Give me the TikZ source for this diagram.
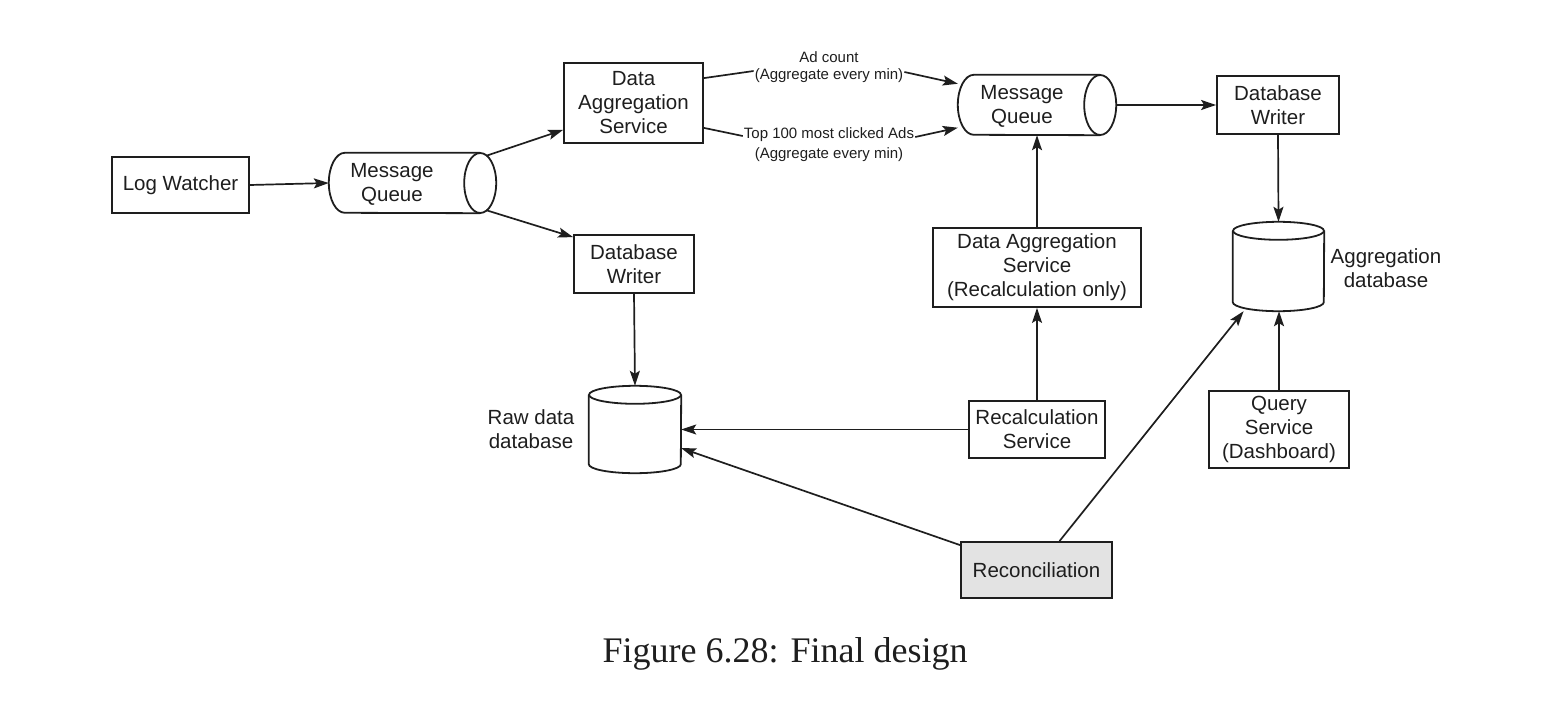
\documentclass[tikz,border=0pt]{standalone}
\usepackage{fontspec}
\setmainfont{Liberation Sans}
\newfontfamily\capfont{Liberation Serif}
\usetikzlibrary{arrows.meta}
\definecolor{ink}{HTML}{1E1E1E}
\begin{document}
\begin{tikzpicture}[x=1pt,y=-1pt,
  every node/.style={text=ink},
  box/.style={draw=ink, line width=1.8pt, inner sep=0pt, align=center, font=\fontsize{20.5}{24}\selectfont},
  hole/.style={inner sep=0pt},
  cyl/.style={draw=ink, line width=1.8pt},
  lbl/.style={align=center, font=\fontsize{20.5}{24}\selectfont},
  small/.style={inner sep=1pt, font=\fontsize{15}{18}\selectfont},
  arr/.style={draw=ink, line width=1.7pt, -{Stealth[length=15pt,width=10pt,inset=3pt]}},
  ln/.style={draw=ink, line width=1.7pt}
]
\useasboundingbox (0,0) rectangle (1541,709);

% ---- boxes
\node[box, minimum width=137, minimum height=56] (lw) at (180.5,185) {Log Watcher};
\node[box, minimum width=139, minimum height=80] (das) at (633.5,103) {Data\\Aggregation\\Service};
\node[box, minimum width=120, minimum height=58] (dbw1) at (634,264) {Database\\Writer};
\node[box, minimum width=122, minimum height=58] (dbw2) at (1278,105) {Database\\Writer};
\node[box, minimum width=208, minimum height=79] (dasr) at (1037,267.5) {Data Aggregation\\Service\\(Recalculation only)};
\node[box, minimum width=136, minimum height=57] (recalc) at (1037,429.5) {Recalculation\\Service};
\node[box, minimum width=140, minimum height=77] (query) at (1279,429.5) {Query\\Service\\(Dashboard)};
\node[box, fill=gray!22, minimum width=151, minimum height=56] (recon) at (1036.5,570) {Reconciliation};

% ---- horizontal cylinders (message queues)
\node[hole, minimum width=167, minimum height=60] (mq1) at (412.5,183) {};
\draw[cyl] ([xshift=-16pt]mq1.north east) -- ([xshift=16pt]mq1.north west)
  arc[start angle=90, end angle=270, x radius=16pt, y radius=30pt] -- ([xshift=-16pt]mq1.south east);
\draw[cyl] ([xshift=-16pt]mq1.east) ellipse[x radius=16pt, y radius=30pt];
\node[lbl] (mq1t) at (392,184) {Message\\Queue};

\node[hole, minimum width=158, minimum height=60] (mq2) at (1037,105) {};
\draw[cyl] ([xshift=-16pt]mq2.north east) -- ([xshift=16pt]mq2.north west)
  arc[start angle=90, end angle=270, x radius=16pt, y radius=30pt] -- ([xshift=-16pt]mq2.south east);
\draw[cyl] ([xshift=-16pt]mq2.east) ellipse[x radius=16pt, y radius=30pt];
\node[lbl] (mq2t) at (1022,106) {Message\\Queue};

% ---- vertical cylinders (databases)
\node[hole, minimum width=92, minimum height=87] (rawdb) at (635,429.5) {};
\draw[cyl] ([yshift=-9pt]rawdb.north west) -- ([yshift=9pt]rawdb.south west)
  arc[start angle=180, end angle=360, x radius=46pt, y radius=9pt] -- ([yshift=-9pt]rawdb.north east);
\draw[cyl] ([yshift=-9pt]rawdb.north) ellipse[x radius=46pt, y radius=9pt];
\node[lbl] (rawlbl) at (531,429) {Raw data\\database};

\node[hole, minimum width=91, minimum height=89] (aggdb) at (1278.5,266.5) {};
\draw[cyl] ([yshift=-9pt]aggdb.north west) -- ([yshift=9pt]aggdb.south west)
  arc[start angle=180, end angle=360, x radius=45.5pt, y radius=9pt] -- ([yshift=-9pt]aggdb.north east);
\draw[cyl] ([yshift=-9pt]aggdb.north) ellipse[x radius=45.5pt, y radius=9pt];
\node[lbl] (agglbl) at (1386,268) {Aggregation\\database};

% ---- edge labels
\node[small] (adcount) at (829,57) {Ad count};
\node[small] (agg1) at (829,76) {(Aggregate every min)};
\node[small] (top100) at (829,135) {Top 100 most clicked Ads};
\node[small] (agg2) at (829,155) {(Aggregate every min)};

% ---- caption
\node[font=\capfont\fontsize{36}{40}\selectfont] (cap) at (785,654) {Figure 6.28: Final design};

% ---- connectors
\draw[arr] (lw.east) -- (mq1.west);
\draw[arr] ([xshift=-10pt,yshift=-3pt]mq1.north east) -- ([yshift=14pt]das.south west);
\draw[arr] ([xshift=-10pt,yshift=3pt]mq1.south east) -- ([yshift=-3pt]dbw1.north west);
\draw[ln] ([yshift=-16pt]das.north east) -- ([yshift=5pt]agg1.west);
\draw[arr] ([yshift=4pt]agg1.east) -- (mq2.165);
\draw[ln] ([yshift=16pt]das.south east) -- ([yshift=-1pt]top100.west);
\draw[arr] ([yshift=-2pt]top100.east) -- (mq2.196);
\draw[arr] (mq2.east) -- (dbw2.west);
\draw[arr] (dbw2.south) -- (aggdb.north);
\draw[arr] (dasr.north) -- (dasr.north |- mq2.south);
\draw[arr] (recalc.north) -- (dasr.south);
\draw[arr] (recalc.west) -- (recalc.west -| rawdb.east);
\draw[arr] ([yshift=-4pt]recon.north west) -- (rawdb.-22);
\draw[arr] ([xshift=23pt]recon.north) -- (aggdb.232);
\draw[arr] (query.north) -- (query.north |- aggdb.south);
\draw[arr] (dbw1.south) -- (rawdb.north);
\end{tikzpicture}
\end{document}
